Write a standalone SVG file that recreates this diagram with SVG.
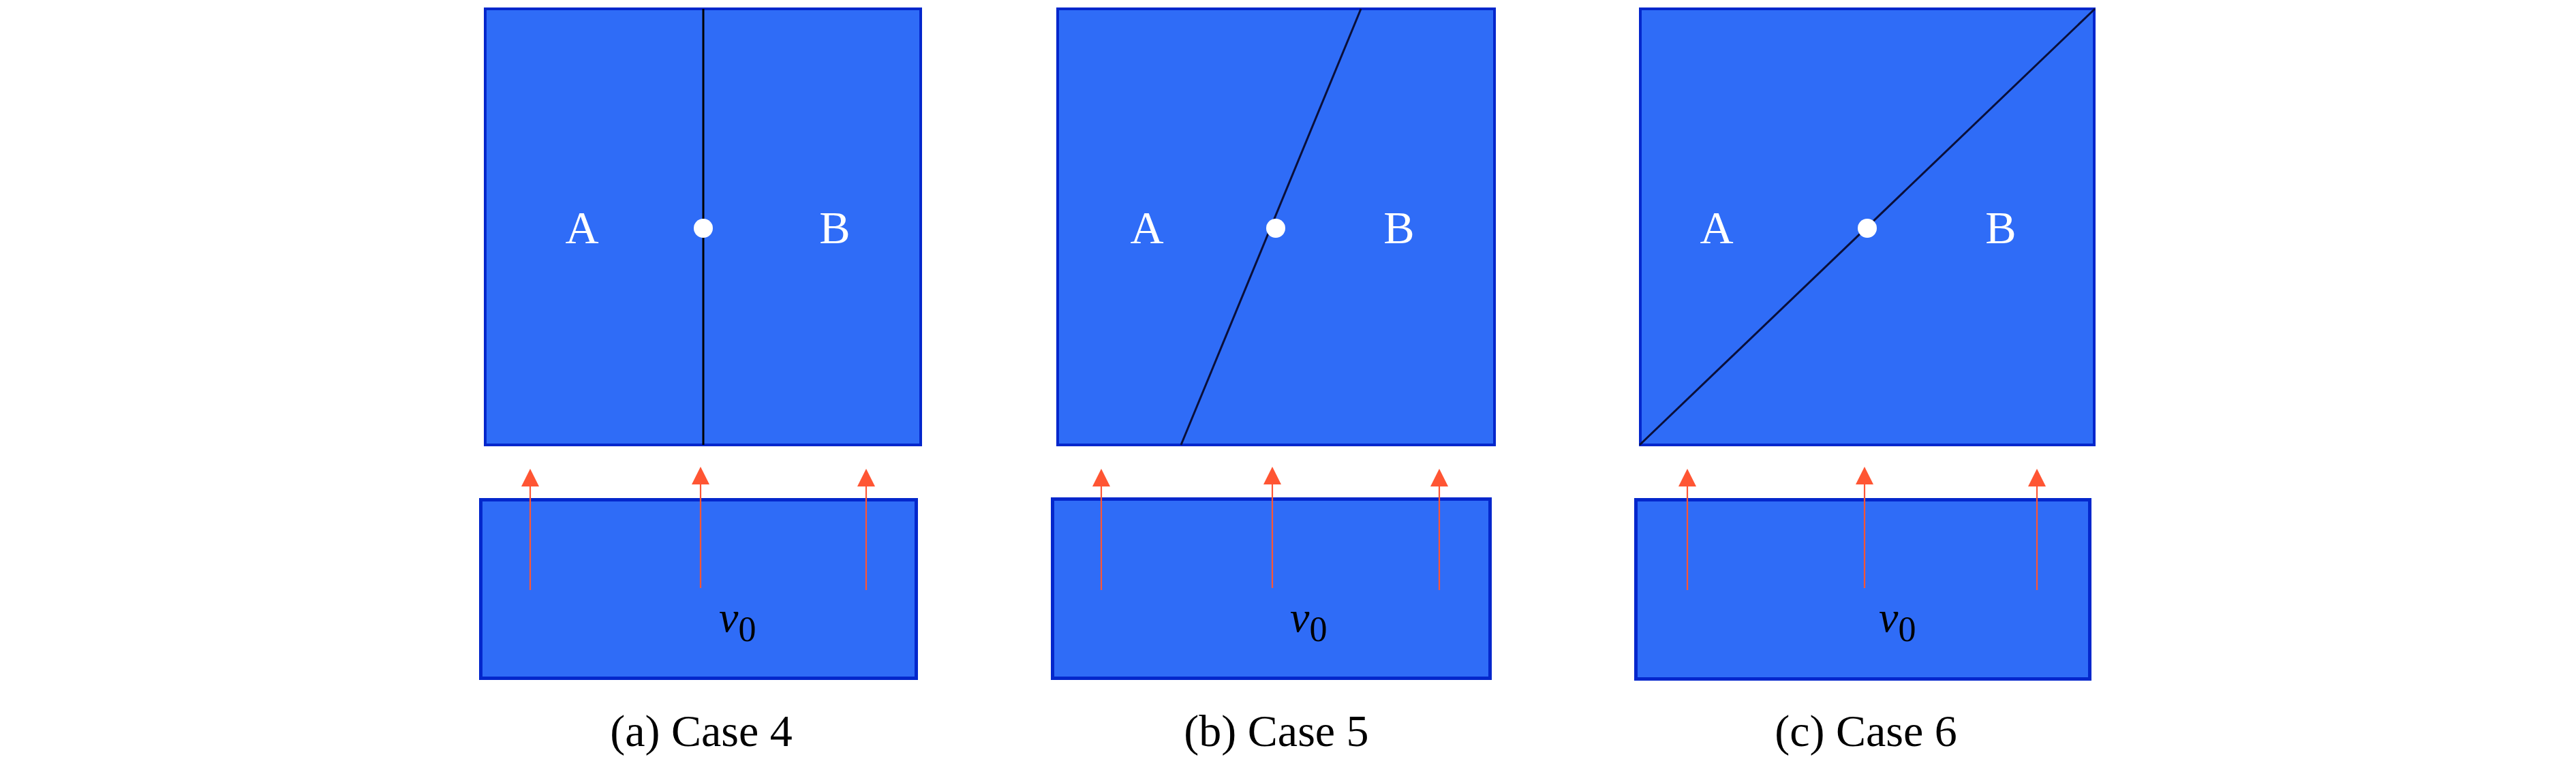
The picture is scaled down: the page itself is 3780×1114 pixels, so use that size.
<svg xmlns="http://www.w3.org/2000/svg" width="3780" height="1114" viewBox="0 0 3780 1114">
<defs>
<style>
.box{fill:#2F6CF7;stroke:#0427CC;stroke-width:4}
.base{fill:#2F6CF7;stroke:#0427CC;stroke-width:5}
.div{stroke:#0A0F3A;stroke-width:3;fill:none}
.dot{fill:#FFFFFF}
.lbl{font-size:68px;fill:#FFFFFF;text-anchor:middle}
.vel{font-size:64px;fill:#000000;font-style:italic}
.sub{font-style:normal;font-size:52px}
.cap{font-size:66px;fill:#000000;text-anchor:middle}
.arr{stroke:#FF5533;stroke-width:2.2;fill:none;marker-end:url(#head)}
</style>
<marker id="head" markerUnits="userSpaceOnUse" markerWidth="26" markerHeight="26" viewBox="0 0 25 25" refX="0" refY="12.5" orient="auto">
<path d="M0,0 L25,12.5 L0,25 Z" fill="#FF5533"/>
</marker>
</defs>
<rect width="3780" height="1114" fill="#FFFFFF"/>
<g font-family="Liberation Serif, Tinos, Times New Roman, Noto Serif, DejaVu Serif, serif">
<g id="panel-a">
<g id="a-top">
<rect class="box" x="712" y="13" width="639" height="640"/>
<line class="div" x1="1032" y1="13" x2="1032" y2="653" style="stroke:#000000"/>
<circle class="dot" cx="1032" cy="335" r="14"/>
<text class="lbl" x="854" y="357">A</text>
<text class="lbl" x="1225" y="357">B</text>
</g>
<g id="a-base">
<rect class="base" x="705.5" y="733.5" width="639" height="262"/>
<text class="vel" x="1055" y="927">v<tspan class="sub" dy="14">0</tspan></text>
</g>
<text id="a-caption" class="cap" x="1029" y="1095">(a) Case 4</text>
</g>

<g id="panel-b">
<g id="b-top">
<rect class="box" x="1552" y="13" width="641" height="640"/>
<line class="div" x1="1733" y1="653" x2="1997" y2="13"/>
<circle class="dot" cx="1872" cy="335" r="14"/>
<text class="lbl" x="1683" y="357">A</text>
<text class="lbl" x="2053" y="357">B</text>
</g>
<g id="b-base">
<rect class="base" x="1544.5" y="732.5" width="642" height="263"/>
<text class="vel" x="1893" y="927">v<tspan class="sub" dy="14">0</tspan></text>
</g>
<text id="b-caption" class="cap" x="1873" y="1095">(b) Case 5</text>
</g>

<g id="panel-c">
<g id="c-top">
<rect class="box" x="2407" y="13" width="666" height="640"/>
<line class="div" x1="2406" y1="653" x2="3074" y2="13"/>
<circle class="dot" cx="2740" cy="335" r="14"/>
<text class="lbl" x="2519" y="357">A</text>
<text class="lbl" x="2936" y="357">B</text>
</g>
<g id="c-base">
<rect class="base" x="2400.5" y="733.5" width="666" height="263"/>
<text class="vel" x="2757" y="927">v<tspan class="sub" dy="14">0</tspan></text>
</g>
<text id="c-caption" class="cap" x="2738" y="1095">(c) Case 6</text>
</g>
</g>
<g id="connectors">
<line class="arr" x1="778" y1="866" x2="778" y2="714"/>
<line class="arr" x1="1028" y1="863" x2="1028" y2="711"/>
<line class="arr" x1="1271" y1="866" x2="1271" y2="714"/>
<line class="arr" x1="1616" y1="866" x2="1616" y2="714"/>
<line class="arr" x1="1867" y1="863" x2="1867" y2="711"/>
<line class="arr" x1="2112" y1="866" x2="2112" y2="714"/>
<line class="arr" x1="2476" y1="866" x2="2476" y2="714"/>
<line class="arr" x1="2736" y1="863" x2="2736" y2="711"/>
<line class="arr" x1="2989" y1="866" x2="2989" y2="714"/>
</g>
</svg>
